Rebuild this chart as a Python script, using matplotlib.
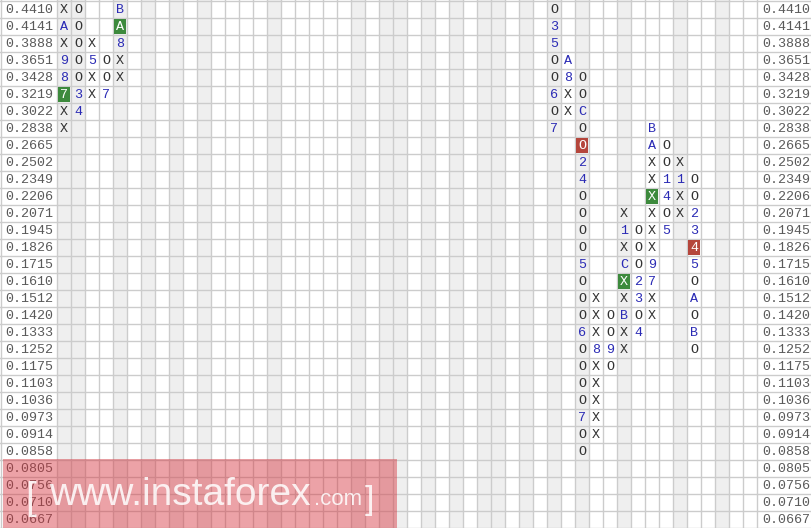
import matplotlib
matplotlib.use("Agg")
import matplotlib.pyplot as plt
from matplotlib.patches import Rectangle

# ---- data ----
price_levels = [0.4410, 0.4141, 0.3888, 0.3651, 0.3428, 0.3219, 0.3022, 0.2838,
                0.2665, 0.2502, 0.2349, 0.2206, 0.2071, 0.1945, 0.1826, 0.1715,
                0.1610, 0.1512, 0.1420, 0.1333, 0.1252, 0.1175, 0.1103, 0.1036,
                0.0973, 0.0914, 0.0858, 0.0805, 0.0756, 0.0710, 0.0667]

col_index = [0, 1, 2, 3, 4, 35, 36, 37, 38, 39, 40, 41, 42, 43, 44, 45]
col_top = [0.4410, 0.4410, 0.3888, 0.3651, 0.4410, 0.4410, 0.3651, 0.3428,
           0.1512, 0.1420, 0.2071, 0.1945, 0.2838, 0.2665, 0.2502, 0.2349]
col_marks = ["XAX987XX", "OOOOO34", "X5XX", "OO7", "BA8XX",
             "O35OO6O7", "A8XX", "OOCOO24OOOO5OOO6OOOO7OO", "XXX8XXXXX", "OO9O",
             "X1XCXXBXX", "OOO23O4", "BAXXXXXX97XX", "OO14O5", "X1XX",
             "OO2345OAOBO"]

green_cells = [(0, 0.3219), (4, 0.4141), (40, 0.1610), (42, 0.2206)]
red_cells = [(37, 0.2665), (45, 0.1826)]

shaded_cols = [0, 1, 4, 6, 8, 10, 15, 21, 23, 24, 26, 28, 30, 31, 33, 35, 37, 40, 44, 47]
n_cols = 50

# ---- figure ----
W, H = 811, 528
fig = plt.figure(figsize=(W / 100, H / 100), dpi=100)
ax = fig.add_axes([0, 0, 1, 1])
n_rows = len(price_levels)
ax.set_xlim(-57 / 14, n_cols + 54 / 14)
ax.set_ylim(n_rows + 0.02, -0.04)
ax.axis("off")

grid_c = "#cccccc"
for c in shaded_cols:
    ax.axvspan(c, c + 1, color="#efefef", lw=0, zorder=0)

for r in range(n_rows + 1):
    ax.axhline(r, color=grid_c, lw=1, zorder=1)
for c in [-4] + list(range(0, n_cols + 1)):
    ax.axvline(c, color=grid_c, lw=1, zorder=1)

row_of = {p: i for i, p in enumerate(price_levels)}
mono = "Liberation Mono"

for i, p in enumerate(price_levels):
    ax.text(-4 + 4 / 14, i + 0.55, f"{p:.4f}", fontsize=9.6, family=mono,
            color="#5a5a5a", ha="left", va="center", zorder=3)
    ax.text(n_cols + 5 / 14, i + 0.55, f"{p:.4f}", fontsize=9.6, family=mono,
            color="#5a5a5a", ha="left", va="center", zorder=3)

hl = {}
for c, p in green_cells:
    hl[(c, row_of[p])] = "#3d8a3d"
for c, p in red_cells:
    hl[(c, row_of[p])] = "#b5463c"

for c, top, marks in zip(col_index, col_top, col_marks):
    r0 = row_of[top]
    for k, m in enumerate(marks):
        r = r0 + k
        if (c, r) in hl:
            ax.add_patch(Rectangle((c + 0.06, r + 0.07), 0.88, 0.88,
                                   color=hl[(c, r)], lw=0, zorder=2))
            col = "white"
        elif m in "XO":
            col = "#333333"
        else:
            col = "#2b2bb5"
        ax.text(c + 0.5, r + 0.55, m, fontsize=9.6, family=mono, color=col,
                ha="center", va="center", zorder=3)

# ---- watermark ----
fig.add_artist(Rectangle((3 / W, 0), 394 / W, 69 / H, transform=fig.transFigure,
                         facecolor="#d7323c", alpha=0.45, lw=0, zorder=5))
base = 23 / H
wm = dict(color="white", alpha=0.85, family="Liberation Sans", va="baseline",
          ha="left", zorder=6)
fig.text(25 / W, base - 4 / H, "[", fontsize=28, **wm)
fig.text(49 / W, base, "www.instaforex", fontsize=28, **wm)
fig.text(314 / W, base, ".com", fontsize=16, **wm)
fig.text(365 / W, base - 4 / H, "]", fontsize=24, **wm)

fig.savefig("out.png", dpi=100)
